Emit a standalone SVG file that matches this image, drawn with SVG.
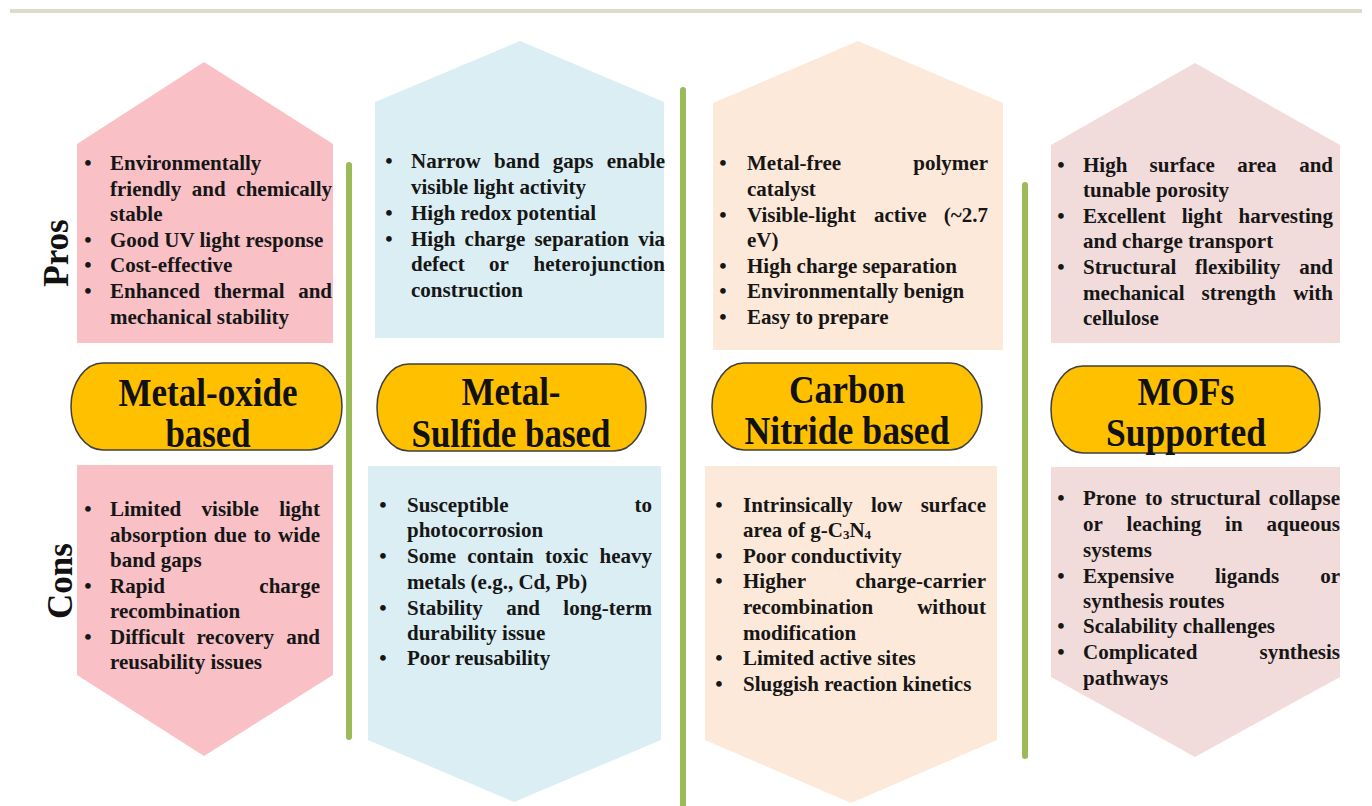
<svg xmlns="http://www.w3.org/2000/svg" width="1372" height="806" viewBox="0 0 1372 806">
<style>
.t{font-family:"Liberation Serif","Times New Roman",serif;font-weight:bold;font-size:21px;fill:#161616}
.e{text-anchor:end}
.m{text-anchor:middle}
.bt{font-family:"Liberation Serif","Times New Roman",serif;font-weight:bold;font-size:40px;fill:#111;text-anchor:middle}
.lbl{font-family:"Liberation Serif","Times New Roman",serif;font-weight:bold;font-size:35px;fill:#111;text-anchor:middle}
.pk{fill:#f9c0c6}
.bl{fill:#dbeef4}
.pe{fill:#fde9da}
.ro{fill:#f2dcdb}
.bub{fill:#ffc000;stroke:#3f3f3f;stroke-width:1.5}
.div{stroke:#9bbb59;stroke-width:6;stroke-linecap:round;fill:none}
</style>
<rect x="0" y="0" width="1372" height="806" fill="#ffffff"/>
<rect x="10" y="9" width="1352" height="4" fill="#e0dccd"/>

<g id="labels">
<text class="lbl" transform="translate(68,253) rotate(-90)">Pros</text>
<text class="lbl" transform="translate(72,581) rotate(-90)">Cons</text>
</g>

<g id="col1-pros">
<polygon class="pk" points="77,144 204,62 333,144 333,343 77,343"/>
<text class="t m" x="88" y="170">•</text><text class="t m" x="88" y="247">•</text><text class="t m" x="88" y="272">•</text><text class="t m" x="88" y="298">•</text>
<text class="t" x="110" y="170">Environmentally</text>
<text class="t" x="110" y="196">friendly</text><text class="t" x="191.8" y="196">and</text><text class="t e" x="332" y="196">chemically</text>
<text class="t" x="110" y="221">stable</text>
<text class="t" x="110" y="247">Good UV light response</text>
<text class="t" x="110" y="272">Cost-effective</text>
<text class="t" x="110" y="298">Enhanced</text><text class="t" x="213.4" y="298">thermal</text><text class="t e" x="332" y="298">and</text>
<text class="t" x="110" y="324">mechanical stability</text>
</g>

<g id="col1-title">
<rect class="bub" x="71" y="363" width="271" height="87" rx="32" ry="44"/>
<text class="bt" x="208" y="406" textLength="179" lengthAdjust="spacingAndGlyphs">Metal-oxide</text>
<text class="bt" x="208" y="447" textLength="85" lengthAdjust="spacingAndGlyphs">based</text>
</g>

<g id="col1-cons">
<polygon class="pk" points="77,465 333,465 333,675 204,756 77,675"/>
<text class="t m" x="88" y="516">•</text><text class="t m" x="88" y="593">•</text><text class="t m" x="88" y="644">•</text>
<text class="t" x="110" y="516">Limited</text><text class="t" x="201.6" y="516">visible</text><text class="t e" x="320" y="516">light</text>
<text class="t" x="110" y="542">absorption</text><text class="t" x="213.8" y="542">due</text><text class="t" x="253.5" y="542">to</text><text class="t e" x="320" y="542">wide</text>
<text class="t" x="110" y="567">band gaps</text>
<text class="t" x="110" y="593">Rapid</text><text class="t e" x="320" y="593">charge</text>
<text class="t" x="110" y="618">recombination</text>
<text class="t" x="110" y="644">Difficult</text><text class="t" x="196.4" y="644">recovery</text><text class="t e" x="320" y="644">and</text>
<text class="t" x="110" y="669">reusability issues</text>
</g>

<g id="col2-pros">
<polygon class="bl" points="375,102 520,41 664,102 664,338 375,338"/>
<text class="t m" x="389" y="168">•</text><text class="t m" x="389" y="220">•</text><text class="t m" x="389" y="246">•</text>
<text class="t" x="411" y="168">Narrow</text><text class="t" x="494.1" y="168">band</text><text class="t" x="552.7" y="168">gaps</text><text class="t e" x="665" y="168">enable</text>
<text class="t" x="411" y="194">visible light activity</text>
<text class="t" x="411" y="220">High redox potential</text>
<text class="t" x="411" y="246">High</text><text class="t" x="464.6" y="246">charge</text><text class="t" x="534.4" y="246">separation</text><text class="t e" x="665" y="246">via</text>
<text class="t" x="411" y="271">defect</text><text class="t" x="489" y="271">or</text><text class="t e" x="665" y="271">heterojunction</text>
<text class="t" x="411" y="297">construction</text>
</g>

<g id="col2-title">
<rect class="bub" x="377" y="364" width="269" height="87" rx="32" ry="44"/>
<text class="bt" x="511" y="405" textLength="99" lengthAdjust="spacingAndGlyphs">Metal-</text>
<text class="bt" x="511" y="447" textLength="199" lengthAdjust="spacingAndGlyphs">Sulfide based</text>
</g>

<g id="col2-cons">
<polygon class="bl" points="368,466 661,466 661,740 514,802 368,740"/>
<text class="t m" x="383" y="512">•</text><text class="t m" x="383" y="563">•</text><text class="t m" x="383" y="615">•</text><text class="t m" x="383" y="665">•</text>
<text class="t" x="407" y="512">Susceptible</text><text class="t e" x="652" y="512">to</text>
<text class="t" x="407" y="537">photocorrosion</text>
<text class="t" x="407" y="563">Some</text><text class="t" x="467.3" y="563">contain</text><text class="t" x="545.1" y="563">toxic</text><text class="t e" x="652" y="563">heavy</text>
<text class="t" x="407" y="589">metals (e.g., Cd, Pb)</text>
<text class="t" x="407" y="615">Stability</text><text class="t" x="506.2" y="615">and</text><text class="t e" x="652" y="615">long-term</text>
<text class="t" x="407" y="640">durability issue</text>
<text class="t" x="407" y="665">Poor reusability</text>
</g>

<g id="col3-pros">
<polygon class="pe" points="713,103 858,41 1003,103 1003,350 713,350"/>
<text class="t m" x="723" y="170">•</text><text class="t m" x="723" y="222">•</text><text class="t m" x="723" y="273">•</text><text class="t m" x="723" y="298">•</text><text class="t m" x="723" y="324">•</text>
<text class="t" x="747" y="170">Metal-free</text><text class="t e" x="988" y="170">polymer</text>
<text class="t" x="747" y="196">catalyst</text>
<text class="t" x="747" y="222">Visible-light</text><text class="t" x="874" y="222">active</text><text class="t e" x="988" y="222">(~2.7</text>
<text class="t" x="747" y="247">eV)</text>
<text class="t" x="747" y="273">High charge separation</text>
<text class="t" x="747" y="298">Environmentally benign</text>
<text class="t" x="747" y="324">Easy to prepare</text>
</g>

<g id="col3-title">
<rect class="bub" x="712" y="363" width="270" height="87" rx="32" ry="44"/>
<text class="bt" x="847" y="403" textLength="116" lengthAdjust="spacingAndGlyphs">Carbon</text>
<text class="bt" x="847" y="444" textLength="205" lengthAdjust="spacingAndGlyphs">Nitride based</text>
</g>

<g id="col3-cons">
<polygon class="pe" points="705,466 997,466 997,740 851,803 705,740"/>
<text class="t m" x="719" y="512">•</text><text class="t m" x="719" y="563">•</text><text class="t m" x="719" y="588">•</text><text class="t m" x="719" y="665">•</text><text class="t m" x="719" y="691">•</text>
<text class="t" x="743" y="512">Intrinsically</text><text class="t" x="870.9" y="512">low</text><text class="t e" x="986" y="512">surface</text>
<text class="t" x="743" y="537">area of g-C<tspan font-size="13" dy="2">3</tspan><tspan dy="-2">N</tspan><tspan font-size="13" dy="2">4</tspan></text>
<text class="t" x="743" y="563">Poor conductivity</text>
<text class="t" x="743" y="588">Higher</text><text class="t e" x="986" y="588">charge-carrier</text>
<text class="t" x="743" y="614">recombination</text><text class="t e" x="986" y="614">without</text>
<text class="t" x="743" y="640">modification</text>
<text class="t" x="743" y="665">Limited active sites</text>
<text class="t" x="743" y="691">Sluggish reaction kinetics</text>
</g>

<g id="col4-pros">
<polygon class="ro" points="1051,145 1195,63 1340,145 1340,343 1051,343"/>
<text class="t m" x="1061" y="172">•</text><text class="t m" x="1061" y="223">•</text><text class="t m" x="1061" y="274">•</text>
<text class="t" x="1083" y="172">High</text><text class="t" x="1149.6" y="172">surface</text><text class="t" x="1237.2" y="172">area</text><text class="t e" x="1333" y="172">and</text>
<text class="t" x="1083" y="197">tunable porosity</text>
<text class="t" x="1083" y="223">Excellent</text><text class="t" x="1181.7" y="223">light</text><text class="t e" x="1333" y="223">harvesting</text>
<text class="t" x="1083" y="248">and charge transport</text>
<text class="t" x="1083" y="274">Structural</text><text class="t" x="1195.1" y="274">flexibility</text><text class="t e" x="1333" y="274">and</text>
<text class="t" x="1083" y="300">mechanical</text><text class="t" x="1201.6" y="300">strength</text><text class="t e" x="1333" y="300">with</text>
<text class="t" x="1083" y="325">cellulose</text>
</g>

<g id="col4-title">
<rect class="bub" x="1051" y="366" width="269" height="87" rx="32" ry="44"/>
<text class="bt" x="1186" y="405" textLength="97" lengthAdjust="spacingAndGlyphs">MOFs</text>
<text class="bt" x="1186" y="446" textLength="160" lengthAdjust="spacingAndGlyphs">Supported</text>
</g>

<g id="col4-cons">
<polygon class="ro" points="1051,467 1340,467 1340,677 1195,757 1051,677"/>
<text class="t m" x="1061" y="505">•</text><text class="t m" x="1061" y="583">•</text><text class="t m" x="1061" y="633">•</text><text class="t m" x="1061" y="659">•</text>
<text class="t" x="1083" y="505">Prone</text><text class="t" x="1145" y="505">to</text><text class="t" x="1170.7" y="505">structural</text><text class="t e" x="1340" y="505">collapse</text>
<text class="t" x="1083" y="531">or</text><text class="t" x="1126.6" y="531">leaching</text><text class="t" x="1225.1" y="531">in</text><text class="t e" x="1340" y="531">aqueous</text>
<text class="t" x="1083" y="557">systems</text>
<text class="t" x="1083" y="583">Expensive</text><text class="t" x="1215" y="583">ligands</text><text class="t e" x="1340" y="583">or</text>
<text class="t" x="1083" y="608">synthesis routes</text>
<text class="t" x="1083" y="633">Scalability challenges</text>
<text class="t" x="1083" y="659">Complicated</text><text class="t e" x="1340" y="659">synthesis</text>
<text class="t" x="1083" y="685">pathways</text>
</g>

<g id="dividers">
<line class="div" x1="349" y1="165" x2="349" y2="737"/>
<line class="div" x1="683" y1="90" x2="683" y2="810"/>
<line class="div" x1="1025" y1="185" x2="1025" y2="756"/>
</g>
</svg>
